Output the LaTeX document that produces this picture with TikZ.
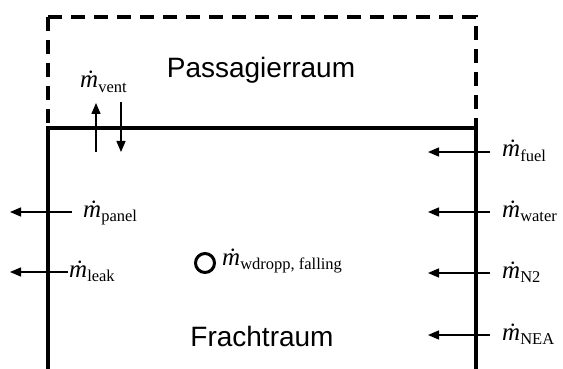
\documentclass[tikz,border=0pt]{standalone}
\usepackage{fontspec}
\setmainfont{Liberation Serif}
\newfontfamily\arialf{Liberation Sans}
\usetikzlibrary{arrows.meta}
\newcommand\mflow[1]{{\fontsize{25}{25}\selectfont\itshape\accent"02D9 m}\raisebox{-4.5pt}{\fontsize{16.5}{16.5}\selectfont #1}}
\tikzset{
  wall/.style={line width=4pt, line cap=rect},
  dwall/.style={line width=4pt, dash pattern=on 14pt off 9pt},
  flow/.style={line width=1.5pt, -{Triangle[length=11pt,width=9pt]}},
  flowlabel/.style={anchor=base west, inner sep=0pt},
  room/.style={anchor=base, inner sep=0pt, font=\arialf\fontsize{28}{28}\selectfont},
}
\begin{document}
\begin{tikzpicture}[x=1pt,y=-1pt]
\useasboundingbox (0,0) rectangle (563,369);
% walls
\coordinate (tl) at (48,17);
\coordinate (tr) at (476,17);
\coordinate (ml) at (48,128);
\coordinate (mr) at (476,128);
\coordinate (bl) at (48,372);
\coordinate (br) at (476,372);
\draw[dwall] (tl) -- (ml);
\draw[dwall] (tl) -- (tr) -- (mr);
\draw[wall] (bl) -- (ml) -- (mr) -- (br);
% rooms
\node[room] (pass) at (261,78) {Passagierraum};
\node[room] (fracht) at (262,346) {Frachtraum};
% vent
\coordinate (vu1) at (96,152); \coordinate (vu2) at (96,103);
\coordinate (vd1) at (121,102); \coordinate (vd2) at (121,152);
\draw[flow] (vu1) -- (vu2);
\draw[flow] (vd1) -- (vd2);
\node[flowlabel] (vent) at (80,88) {\mflow{vent}};
% right side
\foreach \n/\y/\t in {fuel/152/fuel, water/212/water, ntwo/273/N2, nea/335/NEA}{
  \coordinate (\n a) at (490,\y);
  \coordinate (\n b) at (428,\y);
  \draw[flow] (\n a) -- (\n b);
  \node[flowlabel] (\n) at (502,\y+5) {\mflow{\t}};
}
% left side
\coordinate (pa) at (72,212); \coordinate (pb) at (10,212);
\draw[flow] (pa) -- (pb);
\node[flowlabel] (panel) at (83,217) {\mflow{panel}};
\coordinate (la) at (68,272); \coordinate (lb) at (10,272);
\draw[flow] (la) -- (lb);
\node[flowlabel] (leak) at (69,277) {\mflow{leak}};
% droplet
\node[circle, draw, line width=3pt, minimum size=19pt, inner sep=0pt] (drop) at (205,263) {};
\node[flowlabel] (wd) at (222,265) {\mflow{wdropp, falling}};
\end{tikzpicture}
\end{document}
